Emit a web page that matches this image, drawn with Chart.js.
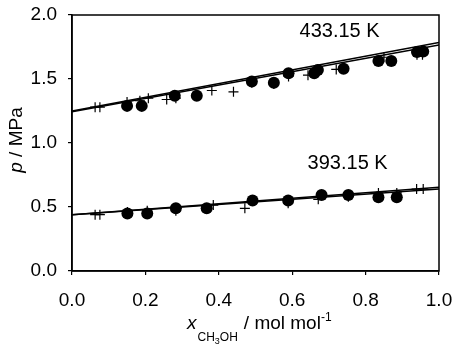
<!DOCTYPE html>
<html>
<head>
<meta charset="utf-8">
<script src="https://cdn.jsdelivr.net/npm/chart.js@4.4.1/dist/chart.umd.min.js"></script>
<style>
  html, body { margin: 0; padding: 0; background: #fff; }
  #wrap { width: 454px; height: 349px; }
</style>
</head>
<body>
<div id="wrap"><canvas id="chart" width="454" height="349"></canvas></div>
<script>
// 433.15 K measurements
const x433Circles = [0.15, 0.19, 0.28, 0.34, 0.49, 0.55, 0.59, 0.66, 0.67, 0.74, 0.835, 0.87, 0.94, 0.957];
const p433Circles = [1.29, 1.29, 1.37, 1.37, 1.48, 1.47, 1.545, 1.545, 1.57, 1.58, 1.64, 1.64, 1.71, 1.715];
const x433Crosses = [0.063, 0.076, 0.15, 0.185, 0.208, 0.258, 0.283, 0.381, 0.44, 0.49, 0.55, 0.59, 0.643, 0.72, 0.85, 0.94, 0.955];
const p433Crosses = [1.28, 1.28, 1.32, 1.33, 1.35, 1.34, 1.35, 1.41, 1.40, 1.47, 1.46, 1.52, 1.53, 1.575, 1.67, 1.69, 1.69];

// 393.15 K measurements
const x393Circles = [0.151, 0.205, 0.283, 0.367, 0.492, 0.589, 0.68, 0.753, 0.835, 0.885];
const p393Circles = [0.45, 0.45, 0.49, 0.49, 0.55, 0.55, 0.594, 0.594, 0.576, 0.576];
const x393Crosses = [0.063, 0.076, 0.151, 0.205, 0.283, 0.385, 0.471, 0.589, 0.671, 0.753, 0.835, 0.885, 0.939, 0.957];
const p393Crosses = [0.44, 0.44, 0.46, 0.47, 0.47, 0.515, 0.49, 0.53, 0.56, 0.58, 0.61, 0.61, 0.64, 0.64];

// fitted lines (x = 0 and x = 1)
const lineX = [0, 1];
const p433LineA = [1.25, 1.785];
const p433LineB = [1.245, 1.765];
const p393LineA = [0.44, 0.655];
const p393LineB = [0.44, 0.64];

const xTicks = [0, 0.2, 0.4, 0.6, 0.8, 1.0];
const yTicks = [0, 0.5, 1.0, 1.5, 2.0];

const curveLabels = [
    { text: '433.15 K', x: 0.62, y: 1.87 },
    { text: '393.15 K', x: 0.642, y: 0.84 }
];

const FONT = '"Liberation Sans", Arial, sans-serif';

function pts(xs, ys) {
    return xs.map((x, i) => ({ x: x, y: ys[i] }));
}

function lineSet(ys) {
    return {
        data: pts(lineX, ys),
        showLine: true,
        borderColor: '#000',
        borderWidth: 1.5,
        pointRadius: 0,
        fill: false
    };
}

function circleSet(xs, ys) {
    return {
        data: pts(xs, ys),
        pointStyle: 'circle',
        pointRadius: 6,
        backgroundColor: '#000',
        borderColor: '#000',
        borderWidth: 0,
        showLine: false
    };
}

function crossSet(xs, ys) {
    return {
        data: pts(xs, ys),
        pointStyle: 'cross',
        pointRadius: 5,
        borderColor: '#000',
        borderWidth: 1.2,
        showLine: false
    };
}

// frame, curve labels and axis titles with sub/superscripts
const extras = {
    id: 'extras',
    afterDraw(chart) {
        const ctx = chart.ctx;
        const a = chart.chartArea;
        const xs = chart.scales.x, ys = chart.scales.y;
        ctx.save();
        ctx.strokeStyle = '#000';
        ctx.lineWidth = 1.5;
        ctx.strokeRect(a.left, a.top, a.right - a.left, a.bottom - a.top);

        ctx.fillStyle = '#000';
        ctx.textBaseline = 'middle';
        ctx.textAlign = 'left';
        ctx.font = '20px ' + FONT;
        curveLabels.forEach(l => {
            ctx.fillText(l.text, xs.getPixelForValue(l.x), ys.getPixelForValue(l.y));
        });

        // x title
        let cx = 187, by = 329;
        ctx.textBaseline = 'alphabetic';
        ctx.font = 'italic 19px ' + FONT;
        ctx.fillText('x', cx, by);
        cx += ctx.measureText('x').width + 1;
        ctx.font = '12px ' + FONT;
        ctx.fillText('CH', cx, by + 12);
        cx += ctx.measureText('CH').width;
        ctx.font = '9px ' + FONT;
        ctx.fillText('3', cx, by + 15);
        cx += ctx.measureText('3').width;
        ctx.font = '12px ' + FONT;
        ctx.fillText('OH', cx, by + 12);
        cx += ctx.measureText('OH').width + 6;
        ctx.font = '19px ' + FONT;
        ctx.fillText('/ mol mol', cx, by);
        cx += ctx.measureText('/ mol mol').width;
        ctx.font = '12px ' + FONT;
        ctx.fillText('-1', cx, by - 8);

        // y title
        ctx.translate(22, 140);
        ctx.rotate(-Math.PI / 2);
        ctx.textAlign = 'left';
        ctx.font = 'italic 19px ' + FONT;
        const w1 = ctx.measureText('p').width;
        ctx.font = '19px ' + FONT;
        const rest = ' / MPa';
        const w2 = ctx.measureText(rest).width;
        const start = -(w1 + w2) / 2;
        ctx.font = 'italic 19px ' + FONT;
        ctx.fillText('p', start, 0);
        ctx.font = '19px ' + FONT;
        ctx.fillText(rest, start + w1, 0);
        ctx.restore();
    }
};

const chart = new Chart(document.getElementById('chart'), {
    type: 'scatter',
    data: {
        datasets: [
            circleSet(x433Circles, p433Circles),
            crossSet(x433Crosses, p433Crosses),
            circleSet(x393Circles, p393Circles),
            crossSet(x393Crosses, p393Crosses),
            lineSet(p433LineA),
            lineSet(p433LineB),
            lineSet(p393LineA),
            lineSet(p393LineB)
        ]
    },
    options: {
        responsive: false,
        animation: false,
        layout: { padding: { left: 0, top: 15, right: 15, bottom: 0 } },
        plugins: {
            legend: { display: false },
            tooltip: { enabled: false }
        },
        scales: {
            x: {
                type: 'linear',
                min: 0,
                max: 1,
                afterBuildTicks: s => { s.ticks = xTicks.map(v => ({ value: v })); },
                afterFit: s => { s.height = 78; s.paddingLeft = 0; s.paddingRight = 0; },
                grid: { drawOnChartArea: false, drawTicks: true, tickLength: 4, color: '#000', lineWidth: 1.2 },
                border: { color: '#000', width: 1.5 },
                ticks: {
                    color: '#000',
                    padding: 14,
                    maxRotation: 0,
                    font: { family: FONT, size: 19 },
                    callback: v => v.toFixed(1)
                }
            },
            y: {
                type: 'linear',
                min: 0,
                max: 2,
                afterBuildTicks: s => { s.ticks = yTicks.map(v => ({ value: v })); },
                afterFit: s => { s.width = 72; s.paddingTop = 0; s.paddingBottom = 0; },
                grid: { drawOnChartArea: false, drawTicks: true, tickLength: 4, color: '#000', lineWidth: 1.2 },
                border: { color: '#000', width: 1.5 },
                ticks: {
                    color: '#000',
                    padding: 11,
                    font: { family: FONT, size: 19 },
                    callback: v => v.toFixed(1)
                }
            }
        }
    },
    plugins: [extras]
});
</script>
</body>
</html>
